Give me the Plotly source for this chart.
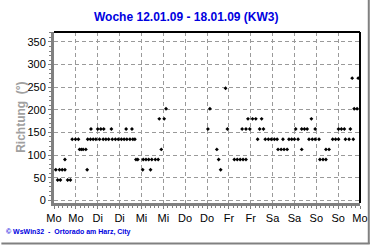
import plotly.graph_objects as go

title_text = "Woche 12.01.09 - 18.01.09 (KW3)"
day_labels = ["Mo", "Mo", "Di", "Di", "Mi", "Mi", "Do", "Do", "Fr", "Fr", "Sa", "Sa", "So", "So", "Mo"]
tick_hours = [i * 12 for i in range(15)]
y_ticks = [0, 50, 100, 150, 200, 250, 300, 350]

hours = [1, 3, 4.5, 6, 2, 3.5, 7.5, 9, 6, 10, 11.8, 13.4, 14, 15, 16, 17.5, 18.2,
         20.3, 18.5, 20, 21.5, 23, 24, 25.7, 27.3, 25, 27, 28.5, 30, 31.5,
         32, 33.7, 35.3, 37, 38.5, 40, 41.7, 43.3, 44.4, 39.6, 42.8,
         45, 46, 49, 50.5, 52, 53.7, 55.6, 57.2, 48.7, 53, 58.9, 57.8, 60.5, 61.5,
         84.5, 85.6, 89.4, 90.4, 91.5, 94.2, 95.2,
         99, 100.6, 102.2, 103.8, 105.4, 103.3, 105.4, 107.5,
         106.5, 109, 110.8, 114, 112.9, 115, 111.8,
         116, 117.7, 119.3, 121, 122.5, 123, 124.7, 126.3, 128, 125.7,
         129, 130.5, 132, 134, 132.7, 136, 136, 137.5, 139, 141.3,
         140, 141.8, 143.4, 145.5, 143.4, 149.3, 151, 146, 147.7, 149.3,
         153, 154.6, 156.2, 156.2, 157.8, 159.4, 160, 162, 164.3, 162.7,
         164.8, 166.4, 163.7, 167]
directions = [67.5, 67.5, 67.5, 67.5, 45, 45, 45, 45, 90, 135, 135, 135, 112.5, 112.5, 112.5, 112.5, 67.5,
              157.5, 135, 135, 135, 135, 157.5, 157.5, 157.5, 135, 135, 135, 135, 157.5,
              135, 135, 135, 135, 135, 135, 135, 135, 135, 157.5, 157.5,
              90, 90, 90, 90, 90, 90, 90, 90, 67.5, 67.5, 112.5, 180, 180, 202.5,
              157.5, 202.5, 112.5, 90, 67.5, 247.5, 157.5,
              90, 90, 90, 90, 90, 157.5, 157.5, 157.5,
              180, 180, 180, 180, 157.5, 157.5, 135,
              135, 135, 135, 135, 135, 112.5, 112.5, 112.5, 112.5, 135,
              135, 135, 135, 135, 157.5, 112.5, 157.5, 157.5, 157.5, 180,
              135, 135, 135, 135, 157.5, 112.5, 112.5, 90, 90, 90,
              135, 135, 135, 157.5, 157.5, 157.5, 135, 135, 135, 157.5,
              202.5, 202.5, 270, 270]

fig = go.Figure()
fig.add_trace(go.Scatter(x=hours, y=directions, mode="markers",
                         marker=dict(symbol="diamond", size=3, color="black"),
                         hoverinfo="skip", showlegend=False))

W, H = 380, 245
L, R, T, B = 54, 12, 32, 42
pw, ph = W - L - R, H - T - B

def px_x(p):
    return (p - L) / pw

def px_y(p):
    return (H - B - p) / ph

grid_style = dict(showgrid=True, gridcolor="#9A9A9A", griddash="4px,3px", gridwidth=1)

fig.update_layout(
    width=W, height=H,
    margin=dict(l=L, r=R, t=T, b=B),
    paper_bgcolor="white", plot_bgcolor="white",
    font=dict(family="Liberation Sans, Arial, sans-serif", size=11, color="black"),
    xaxis=dict(range=[0, 168], tickvals=tick_hours, ticktext=day_labels,
               **grid_style,
               showline=True, linecolor="#808080", linewidth=3,
               ticks="outside", ticklen=3, tickcolor="#808080",
               minor=dict(dtick=2.4, ticks="outside", ticklen=2, tickcolor="#808080", showgrid=False),
               zeroline=False, fixedrange=True),
    yaxis=dict(range=[-6, 372], tickvals=y_ticks,
               **grid_style,
               showline=True, linecolor="#808080", linewidth=3,
               ticks="outside", ticklen=3, tickcolor="#808080",
               minor=dict(dtick=10, ticks="outside", ticklen=2, tickcolor="#808080", showgrid=False),
               zeroline=False, fixedrange=True),
    shapes=[
        dict(type="line", xref="paper", yref="paper", x0=0, x1=1, y0=1, y1=1,
             line=dict(color="black", width=2)),
        dict(type="line", xref="paper", yref="paper", x0=1, x1=1, y0=0, y1=1,
             line=dict(color="black", width=2)),
        dict(type="line", xref="paper", yref="paper", x0=px_x(377), x1=px_x(377),
             y0=px_y(244), y1=px_y(0), line=dict(color="#808080", width=2)),
        dict(type="line", xref="paper", yref="paper", x0=px_x(0), x1=px_x(378),
             y0=px_y(243.5), y1=px_y(243.5), line=dict(color="#808080", width=2)),
    ],
    annotations=[
        dict(text="<b>" + title_text + "</b>", xref="paper", yref="paper",
             x=px_x(190), y=px_y(17), xanchor="center", yanchor="middle",
             showarrow=False, font=dict(size=12, color="#0000E0")),
        dict(text="<b>Richtung  (°)</b>", xref="paper", yref="paper",
             x=px_x(20), y=px_y(117), xanchor="center", yanchor="middle",
             textangle=-90, showarrow=False, font=dict(size=12, color="#A0A0A0")),
        dict(text="<b>© WsWin32  -  Ortorado am Harz, City</b>", xref="paper", yref="paper",
             x=px_x(3), y=px_y(232), xanchor="left", yanchor="middle",
             showarrow=False, font=dict(size=7, color="#0000E0")),
    ],
)

fig.write_html("out.html")
